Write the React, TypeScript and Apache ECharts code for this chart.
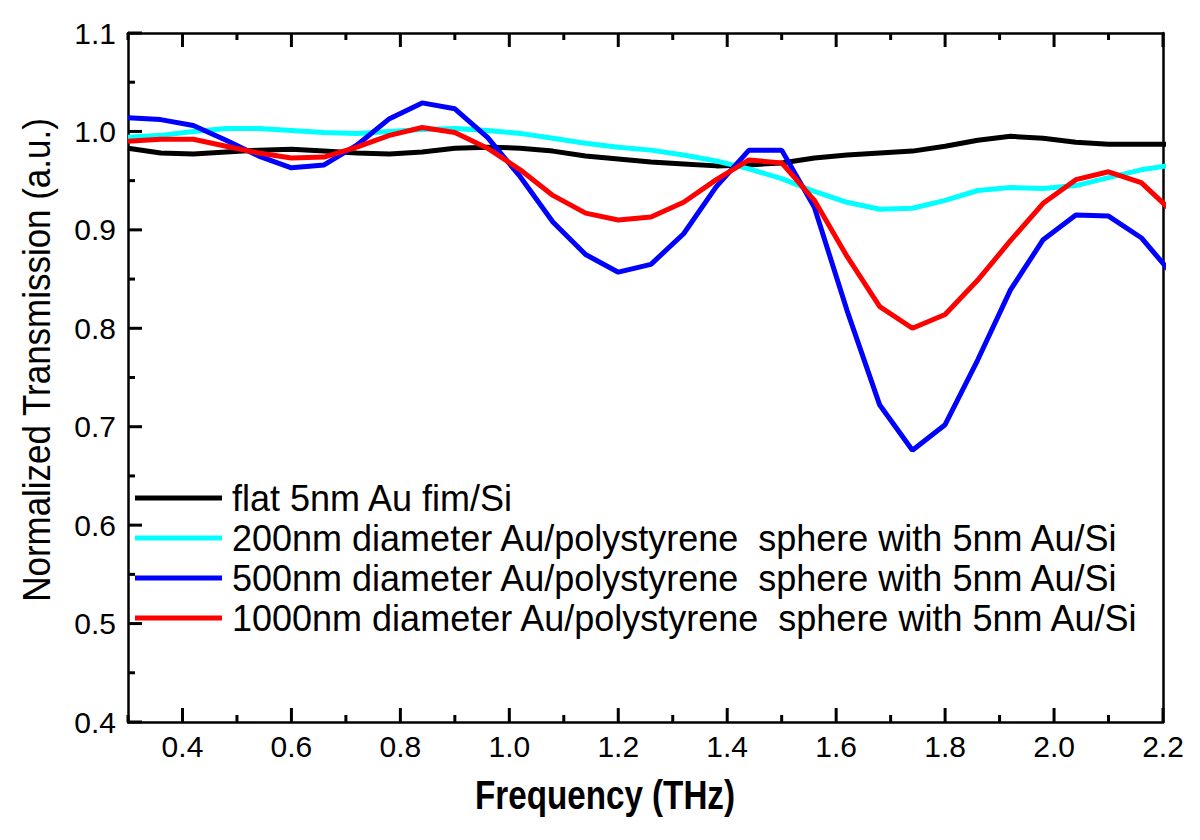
import React, { useEffect, useRef } from "react";
import * as echarts from "echarts";

const freq = [0.30, 0.36, 0.42, 0.48, 0.54, 0.60, 0.66, 0.72, 0.78, 0.84, 0.90, 0.96, 1.02, 1.08, 1.14, 1.20, 1.26, 1.32, 1.38, 1.44, 1.50, 1.56, 1.62, 1.68, 1.74, 1.80, 1.86, 1.92, 1.98, 2.04, 2.10, 2.16, 2.22];

const flatAu = [0.983, 0.978, 0.977, 0.979, 0.981, 0.982, 0.980, 0.978, 0.977, 0.979, 0.983, 0.984, 0.983, 0.980, 0.975, 0.972, 0.969, 0.967, 0.965, 0.966, 0.968, 0.973, 0.976, 0.978, 0.980, 0.985, 0.991, 0.995, 0.993, 0.989, 0.987, 0.987, 0.987];
const d200 = [0.994, 0.996, 1.000, 1.003, 1.003, 1.001, 0.999, 0.998, 1.000, 1.002, 1.003, 1.001, 0.998, 0.993, 0.988, 0.984, 0.981, 0.976, 0.970, 0.962, 0.952, 0.939, 0.928, 0.921, 0.922, 0.930, 0.940, 0.943, 0.942, 0.945, 0.953, 0.961, 0.966];
const d500 = [1.014, 1.012, 1.006, 0.991, 0.975, 0.963, 0.966, 0.986, 1.013, 1.029, 1.023, 0.994, 0.954, 0.908, 0.875, 0.857, 0.865, 0.896, 0.944, 0.981, 0.981, 0.923, 0.818, 0.722, 0.676, 0.702, 0.768, 0.839, 0.890, 0.915, 0.914, 0.892, 0.853];
const d1000 = [0.990, 0.992, 0.992, 0.985, 0.978, 0.973, 0.974, 0.984, 0.996, 1.004, 0.999, 0.983, 0.961, 0.935, 0.917, 0.910, 0.913, 0.928, 0.951, 0.971, 0.968, 0.930, 0.873, 0.822, 0.800, 0.814, 0.849, 0.889, 0.927, 0.951, 0.959, 0.948, 0.917];

const seriesNames = [
  "flat 5nm Au fim/Si",
  "200nm diameter Au/polystyrene  sphere with 5nm Au/Si",
  "500nm diameter Au/polystyrene  sphere with 5nm Au/Si",
  "1000nm diameter Au/polystyrene  sphere with 5nm Au/Si",
];
const seriesColors = ["#000000", "#00ffff", "#0000ff", "#ff0000"];
const seriesValues = [flatAu, d200, d500, d1000];

const xMajorTicks = [0.4, 0.6, 0.8, 1.0, 1.2, 1.4, 1.6, 1.8, 2.0, 2.2];
const xMinorTicks = [0.3, 0.5, 0.7, 0.9, 1.1, 1.3, 1.5, 1.7, 1.9, 2.1];
const yMajorTicks = [0.4, 0.5, 0.6, 0.7, 0.8, 0.9, 1.0, 1.1];
const yMinorTicks = [0.45, 0.55, 0.65, 0.75, 0.85, 0.95, 1.05];
const xTitle = "Frequency (THz)";
const yTitle = "Normalized Transmission (a.u.)";

const X_MIN = 0.3;
const X_MAX = 2.2;
const Y_MIN = 0.4;
const Y_MAX = 1.1;

const SANS = "'Liberation Sans', Arial, sans-serif";

export default function App() {
  const ref = useRef<HTMLDivElement>(null);
  useEffect(() => {
    if (!ref.current) return;
    const chart = echarts.init(ref.current, null, { renderer: "svg" });
    const axisLine = { show: true, onZero: false, lineStyle: { color: "#000", width: 2.5 } };

    // tick marks: [value, isX (1) / isY (0), major (1) / minor (0)]
    const tickData: number[][] = [
      ...xMajorTicks.map((v) => [v, 1, 1]),
      ...xMinorTicks.map((v) => [v, 1, 0]),
      ...yMajorTicks.map((v) => [v, 0, 1]),
      ...yMinorTicks.map((v) => [v, 0, 0]),
    ];
    const tickStyle = { stroke: "#000", lineWidth: 3, fill: "none" };

    chart.setOption({
      animation: false,
      backgroundColor: "#ffffff",
      grid: { left: 128, top: 33, right: 37, bottom: 118 },
      legend: {
        orient: "vertical",
        left: 130,
        top: 475,
        itemWidth: 87,
        itemHeight: 5,
        itemGap: 4,
        icon: "rect",
        selectedMode: false,
        data: seriesNames,
        textStyle: { fontFamily: SANS, fontSize: 36, lineHeight: 36, color: "#000", padding: [0, 0, 0, 5] },
      },
      graphic: [
        {
          type: "text",
          x: 605,
          y: 795,
          scaleX: 0.83,
          style: { text: xTitle, fontFamily: SANS, fontSize: 40, fontWeight: "bold", fill: "#000", align: "center", verticalAlign: "middle" },
        },
        {
          type: "text",
          x: 37,
          y: 360,
          rotation: Math.PI / 2,
          scaleX: 0.92,
          style: { text: yTitle, fontFamily: SANS, fontSize: 38, fill: "#000", align: "center", verticalAlign: "middle" },
        },
      ],
      xAxis: [
        {
          type: "value",
          min: X_MIN,
          max: X_MAX,
          position: "bottom",
          splitLine: { show: false },
          axisLine,
          axisTick: { show: false },
          axisLabel: {
            customValues: xMajorTicks,
            formatter: (v: number) => v.toFixed(1),
            fontFamily: SANS,
            fontSize: 30,
            color: "#000",
            margin: 9,
          },
        },
        {
          type: "value",
          min: X_MIN,
          max: X_MAX,
          position: "top",
          splitLine: { show: false },
          axisLine,
          axisTick: { show: false },
          axisLabel: { show: false },
        },
      ],
      yAxis: [
        {
          type: "value",
          min: Y_MIN,
          max: Y_MAX,
          interval: 0.1,
          position: "left",
          splitLine: { show: false },
          axisLine,
          axisTick: { show: false },
          axisLabel: {
            formatter: (v: number) => v.toFixed(1),
            fontFamily: SANS,
            fontSize: 30,
            color: "#000",
            margin: 12,
          },
        },
        {
          type: "value",
          min: Y_MIN,
          max: Y_MAX,
          interval: 0.1,
          position: "right",
          splitLine: { show: false },
          axisLine,
          axisTick: { show: false },
          axisLabel: { show: false },
        },
      ],
      series: [
        ...seriesNames.map((name, i) => ({
          name,
          type: "line",
          xAxisIndex: 0,
          yAxisIndex: 0,
          data: freq.map((f, j) => [f, seriesValues[i][j]]),
          showSymbol: false,
          symbol: "none",
          color: seriesColors[i],
          lineStyle: { color: seriesColors[i], width: 5 },
          itemStyle: { color: seriesColors[i] },
          z: 3 + i,
        })),
        {
          type: "custom",
          name: "ticks",
          xAxisIndex: 0,
          yAxisIndex: 0,
          clip: false,
          silent: true,
          z: 10,
          data: tickData,
          renderItem: (_params: any, api: any) => {
            const v = api.value(0);
            const isX = api.value(1) === 1;
            const len = api.value(2) === 1 ? 14 : 7;
            if (isX) {
              const b = api.coord([v, Y_MIN]);
              const t = api.coord([v, Y_MAX]);
              return {
                type: "group",
                children: [
                  { type: "line", shape: { x1: b[0], y1: b[1], x2: b[0], y2: b[1] - len }, style: tickStyle },
                  { type: "line", shape: { x1: t[0], y1: t[1], x2: t[0], y2: t[1] + len }, style: tickStyle },
                ],
              };
            }
            const l = api.coord([X_MIN, v]);
            return { type: "line", shape: { x1: l[0], y1: l[1], x2: l[0] + len, y2: l[1] }, style: tickStyle };
          },
        },
      ],
    });
    return () => chart.dispose();
  }, []);
  return <div ref={ref} style={{ position: "fixed", left: 0, top: 0, width: 1200, height: 840 }} />;
}
